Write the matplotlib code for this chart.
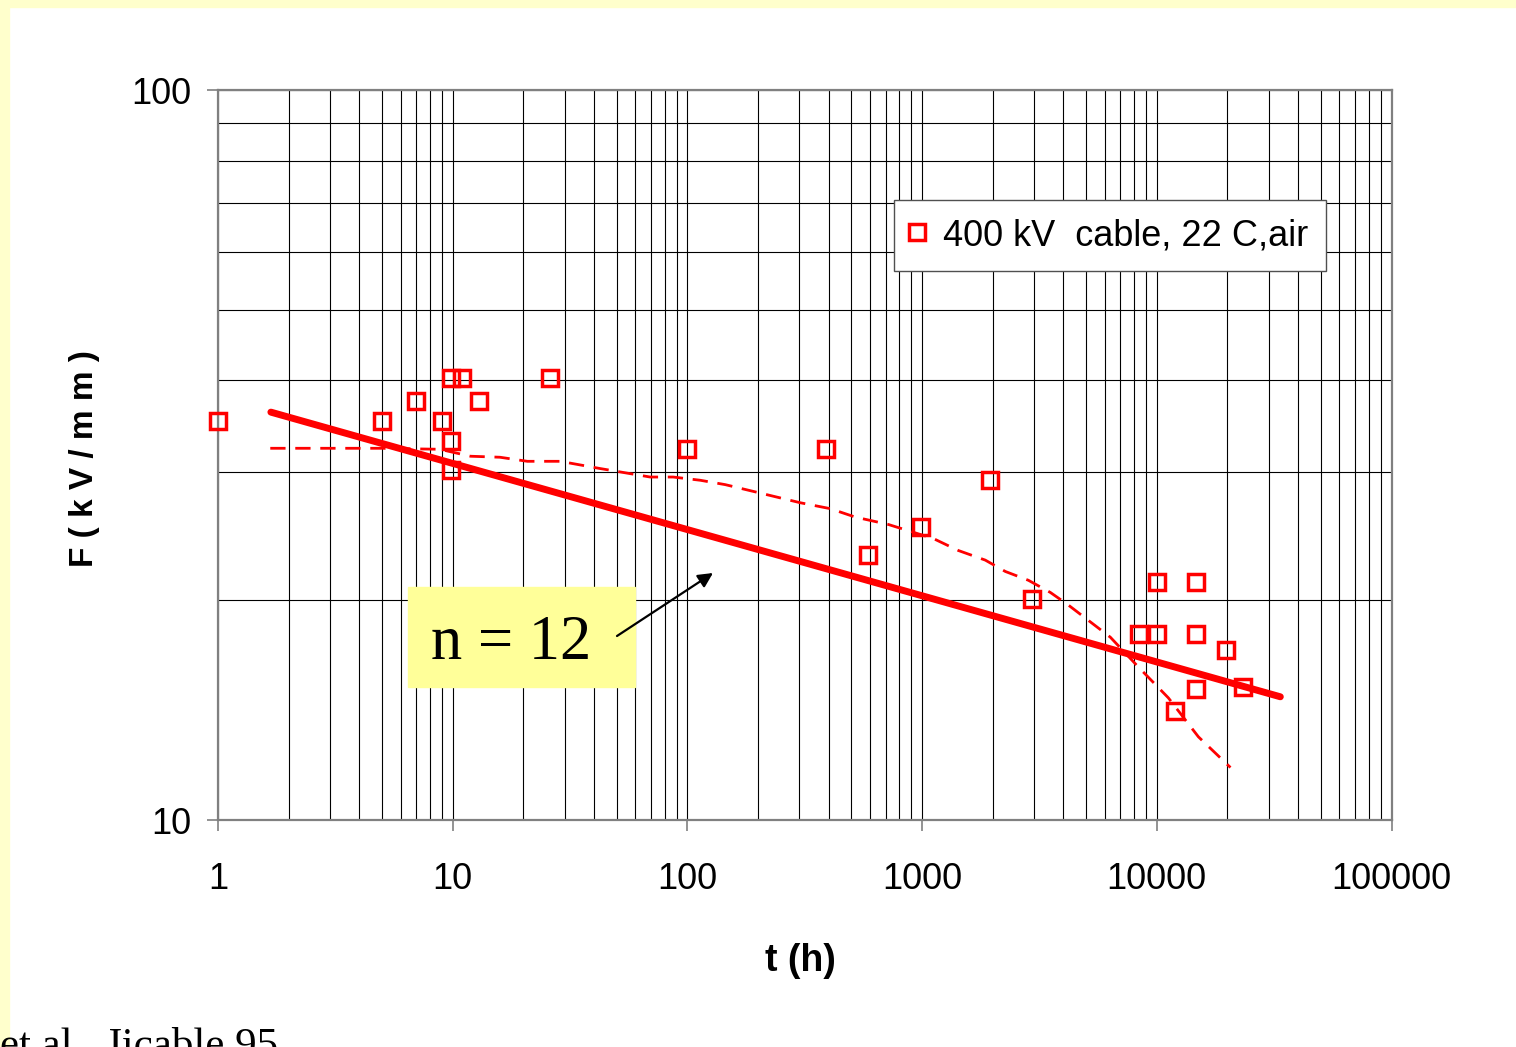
import numpy as np
import matplotlib
matplotlib.use("Agg")
import matplotlib.pyplot as plt
from matplotlib.ticker import LogLocator, NullFormatter, FixedLocator, FixedFormatter
from matplotlib.patches import Rectangle

plt.rcParams['font.family'] = ['Liberation Sans', 'DejaVu Sans']

# breakdown times (h) and fields (kV/mm), 400 kV cable in air
t_data = [1, 5, 7, 9, 9.8, 11, 9.8, 9.8, 13, 26, 100, 390, 590, 990, 1950, 2950,
          8400, 10000, 10000, 14700, 14700, 14700, 11900, 19800, 23400]
F_data = [35.2, 35.2, 37.5, 35.2, 40.3, 40.3, 33.0, 30.2, 37.5, 40.3, 32.2, 32.2,
          23.1, 25.2, 29.2, 20.1, 18.0, 18.0, 21.2, 21.2, 18.0, 15.1, 14.1, 17.1, 15.2]

# inverse power law fit
fit_t = [1.68, 33600]
fit_F = [36.2, 14.75]
n_label = "n = 12"

# dashed trend curve
trend_t = [1.67, 4.9, 8.8, 11.9, 15.9, 20.8, 28.7, 42.5, 69.4, 87, 113.5, 145, 303,
           406, 519, 718, 1116, 1426, 1858, 2263, 2837, 3518, 4198, 6338, 8350,
           11200, 15040, 20600]
trend_F = [32.3, 32.3, 32.2, 31.5, 31.4, 31.0, 31.0, 30.3, 29.5, 29.5, 29.2, 28.8,
           27.2, 26.7, 26.0, 25.4, 24.3, 23.4, 22.7, 21.9, 21.3, 20.5, 19.7, 17.8,
           16.2, 14.7, 13.0, 11.8]

x_ticks = [1, 10, 100, 1000, 10000, 100000]
y_ticks = [10, 100]

W, H = 1516, 1047
fig = plt.figure(figsize=(W / 100, H / 100), dpi=100)

# light yellow slide border
yellow = '#FFFFCC'
fig.patches.append(Rectangle((0, 1 - 7 / H), 1, 7 / H, transform=fig.transFigure,
                             color=yellow, zorder=0))
fig.patches.append(Rectangle((0, 0), 9 / W, 1, transform=fig.transFigure,
                             color=yellow, zorder=0))

ax_w, ax_h = 1391.5 - 218, 730
ax = fig.add_axes([218 / W, 1 - 820 / H, ax_w / W, ax_h / H])
ax.set_xscale('log')
ax.set_yscale('log')
ax.set_xlim(1, 100000)
ax.set_ylim(10, 100)

ax.xaxis.set_major_locator(FixedLocator(x_ticks))
ax.xaxis.set_major_formatter(FixedFormatter([str(v) for v in x_ticks]))
ax.yaxis.set_major_locator(FixedLocator(y_ticks))
ax.yaxis.set_major_formatter(FixedFormatter([str(v) for v in y_ticks]))
ax.xaxis.set_minor_locator(LogLocator(base=10, subs=np.arange(2, 10), numticks=20))
ax.yaxis.set_minor_locator(LogLocator(base=10, subs=np.arange(2, 10), numticks=20))
ax.xaxis.set_minor_formatter(NullFormatter())
ax.yaxis.set_minor_formatter(NullFormatter())

ax.grid(which='both', color='black', lw=0.8)
ax.set_axisbelow(True)
for s in ax.spines.values():
    s.set_color('#808080')
    s.set_linewidth(1.6)
ax.tick_params(which='major', direction='out', length=8, width=1.2, color='#808080',
               labelsize=26)
ax.tick_params(axis='x', which='major', pad=22)
ax.tick_params(axis='y', which='major', pad=11)
ax.tick_params(which='minor', length=0)

ax.plot(fit_t, fit_F, color='red', lw=5, solid_capstyle='round', zorder=3)
ax.plot(trend_t, trend_F, color='red', lw=2, dashes=(5.5, 3.5), zorder=3)
pts, = ax.plot(t_data, F_data, ls='none', marker='s', ms=12, mfc='none',
               mec='red', mew=2.5, zorder=4, clip_on=False)

leg = ax.legend([pts], ['400 kV  cable, 22 C,air'], loc='upper left',
                bbox_to_anchor=(894 / W, 1 - 200 / H), bbox_transform=fig.transFigure,
                fontsize=26, frameon=True, fancybox=False, framealpha=1,
                edgecolor='#505050', handlelength=0.3, handletextpad=0.55,
                borderpad=0.5, borderaxespad=0, markerscale=0.95)
leg.get_frame().set_linewidth(1.0)
leg.set_zorder(5)

ax.set_xlabel('t (h)', fontsize=27, fontweight='bold', va='center')
ax.xaxis.set_label_coords((800 - 218) / ax_w, (820 - 961) / ax_h)
ax.set_ylabel('F ( k V / m m )', fontsize=24, fontweight='bold', va='center', ha='center')
ax.yaxis.set_label_coords((85 - 218) / ax_w, 0.495)

# annotation box with the exponent
ax.add_patch(Rectangle(((408 - 218) / ax_w, (820 - 687) / ax_h), 227 / ax_w, 100 / ax_h,
                       transform=ax.transAxes, color='#FFFF99', zorder=6, clip_on=False))
ax.text((511 - 218) / ax_w, (820 - 659) / ax_h, n_label, transform=ax.transAxes,
        fontsize=45, family='Liberation Serif', ha='center', va='baseline', zorder=7)
ax.annotate('', xy=((713 - 218) / ax_w, (820 - 573) / ax_h), xycoords='axes fraction',
            xytext=((617 - 218) / ax_w, (820 - 636) / ax_h), textcoords='axes fraction',
            arrowprops=dict(arrowstyle='-|>', color='black', lw=1.6,
                            mutation_scale=22, shrinkA=0, shrinkB=0),
            zorder=8)

fig.text(278 / W, 1 - 1056 / H, 'et al., Jicable 95', fontsize=31,
         family='Liberation Serif', ha='right', va='baseline')

fig.savefig('out.png', dpi=100)
